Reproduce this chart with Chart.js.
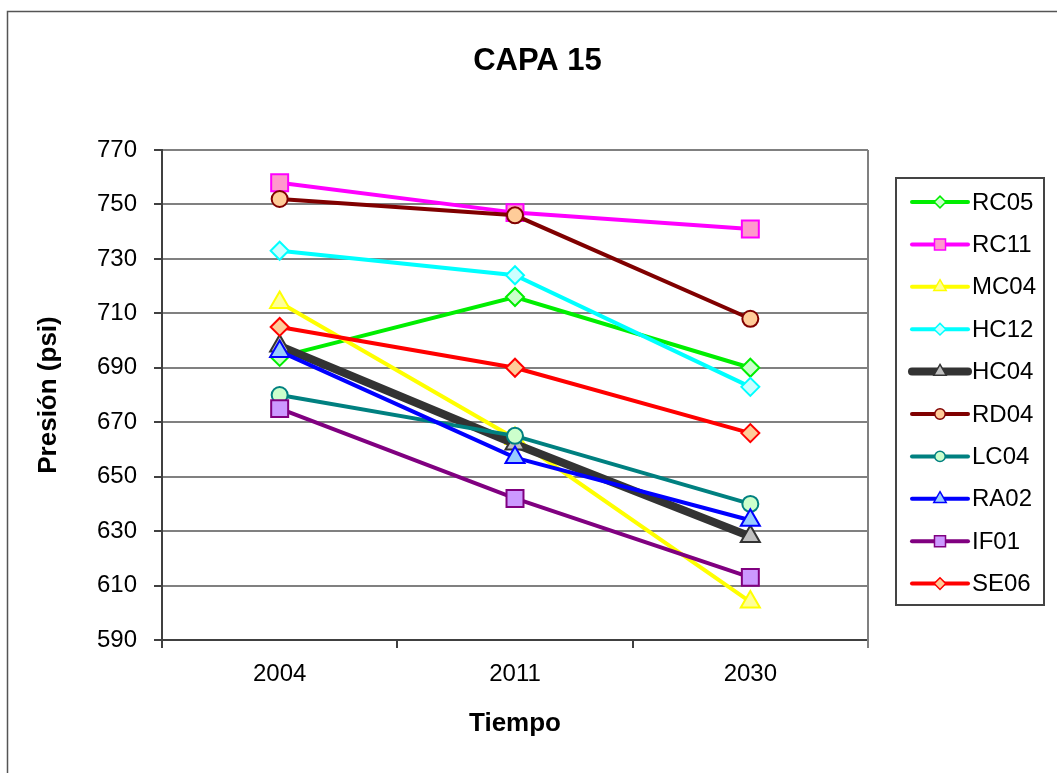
<!DOCTYPE html>
<html>
<head>
<meta charset="utf-8">
<title>CAPA 15</title>
<script src="https://cdn.jsdelivr.net/npm/chart.js@4.4.0/dist/chart.umd.min.js"></script>
<style>
  html, body { margin: 0; padding: 0; background: #fff; }
  #wrap { width: 1057px; height: 773px; position: relative; }
</style>
</head>
<body>
<div id="wrap"><canvas id="capaChart"></canvas></div>
<script>
// Years on the x axis
const years = ['2004', '2011', '2030'];

// Pressure per well (psi)
const rc05 = [694, 716, 690];
const rc11 = [758, 747, 741];
const mc04 = [714, 664, 604];
const hc12 = [733, 724, 683];
const hc04 = [698, 662, 628];
const rd04 = [752, 746, 708];
const lc04 = [680, 665, 640];
const ra02 = [696, 657, 634];
const if01 = [675, 642, 613];
const se06 = [705, 690, 666];

// Y axis range
const yMin = 590;
const yMax = 770;
const yStep = 20;

const chartTitle = 'CAPA 15';

const series = [
    { name: 'RC05', values: rc05 },
    { name: 'RC11', values: rc11 },
    { name: 'MC04', values: mc04 },
    { name: 'HC12', values: hc12 },
    { name: 'HC04', values: hc04 },
    { name: 'RD04', values: rd04 },
    { name: 'LC04', values: lc04 },
    { name: 'RA02', values: ra02 },
    { name: 'IF01', values: if01 },
    { name: 'SE06', values: se06 }
];

// Line colour, marker fill, marker shape and size for each well
const styles = {
    RC05: { line: '#00ee00', fill: '#ccffcc', shape: 'rectRot', r: 9, w: 4 },
    RC11: { line: '#ff00ff', fill: '#ff99cc', shape: 'rect', r: 12, w: 4 },
    MC04: { line: '#ffff00', fill: '#ffff99', shape: 'triangle', r: 11, w: 4 },
    HC12: { line: '#00ffff', fill: '#ccffff', shape: 'rectRot', r: 9, w: 4 },
    HC04: { line: '#333333', fill: '#c0c0c0', shape: 'triangle', r: 11, w: 8 },
    RD04: { line: '#800000', fill: '#ffcc99', shape: 'circle', r: 8, w: 4 },
    LC04: { line: '#008080', fill: '#ccffcc', shape: 'circle', r: 8, w: 4 },
    RA02: { line: '#0000ff', fill: '#99ccff', shape: 'triangle', r: 11, w: 4 },
    IF01: { line: '#800080', fill: '#cc99ff', shape: 'rect', r: 12, w: 4 },
    SE06: { line: '#ff0000', fill: '#ffcc99', shape: 'rectRot', r: 9, w: 4 }
};

const FONT = "'Liberation Sans', Arial, sans-serif";

const datasets = series.map((s, i) => {
    const st = styles[s.name];
    return {
        label: s.name,
        data: s.values,
        borderColor: st.line,
        borderWidth: st.w,
        backgroundColor: st.fill,
        pointStyle: st.shape,
        pointRadius: st.r,
        pointBorderColor: st.line,
        pointBackgroundColor: st.fill,
        pointBorderWidth: 2,
        tension: 0,
        // later wells sit on top of earlier ones
        order: series.length - i
    };
});

// White page with the outer frame and the title, plus the right edge of the plot area
const framePlugin = {
    id: 'frame',
    beforeDraw(chart) {
        const ctx = chart.ctx;
        ctx.save();
        ctx.fillStyle = '#ffffff';
        ctx.fillRect(0, 0, chart.width, chart.height);
        ctx.strokeStyle = '#555555';
        ctx.lineWidth = 1.5;
        ctx.strokeRect(7.5, 11.5, chart.width + 20, chart.height + 20);

        // title is centred on the whole page, not only the plot
        ctx.fillStyle = '#000000';
        ctx.font = 'bold 31px ' + FONT;
        ctx.textAlign = 'center';
        ctx.textBaseline = 'middle';
        ctx.fillText(chartTitle, chart.width / 2 + 9, 61);
        ctx.restore();
    },
    afterDatasetsDraw(chart) {
        const { ctx, chartArea } = chart;
        ctx.save();
        ctx.strokeStyle = '#808080';
        ctx.lineWidth = 2;
        ctx.beginPath();
        ctx.moveTo(chartArea.right, chartArea.top);
        ctx.lineTo(chartArea.right, chartArea.bottom + 8);
        ctx.stroke();
        ctx.restore();
    }
};

// Boxed legend with a line sample and marker for every well
const legendPlugin = {
    id: 'wellLegend',
    afterDraw(chart) {
        const { ctx, chartArea } = chart;
        const left = chartArea.right + 28;
        const top = chartArea.top + 28;
        const width = 148;
        const rowH = 42.4;
        const height = rowH * chart.data.datasets.length + 3;

        ctx.save();
        ctx.strokeStyle = '#444444';
        ctx.lineWidth = 2;
        ctx.strokeRect(left, top, width, height);

        ctx.font = '24px ' + FONT;
        ctx.textBaseline = 'middle';
        ctx.textAlign = 'left';

        chart.data.datasets.forEach((ds, i) => {
            const y = top + 24 + i * rowH;
            ctx.strokeStyle = ds.borderColor;
            ctx.lineWidth = ds.borderWidth;
            ctx.lineCap = 'round';
            ctx.beginPath();
            ctx.moveTo(left + 16, y);
            ctx.lineTo(left + 72, y);
            ctx.stroke();

            ctx.fillStyle = ds.pointBackgroundColor;
            ctx.strokeStyle = ds.pointBorderColor;
            ctx.lineWidth = 1.5;
            Chart.helpers.drawPoint(ctx, {
                pointStyle: ds.pointStyle,
                rotation: 0,
                radius: ds.pointRadius * 0.65,
                borderWidth: 1.5
            }, left + 44, y);

            ctx.fillStyle = '#000000';
            ctx.fillText(ds.label, left + 76, y + 1);
        });
        ctx.restore();
    }
};

new Chart(document.getElementById('capaChart'), {
    type: 'line',
    data: {
        labels: years,
        datasets: datasets
    },
    options: {
        responsive: true,
        maintainAspectRatio: false,
        animation: false,
        layout: {
            padding: { top: 150, left: 33, right: 189, bottom: 34 }
        },
        plugins: {
            legend: { display: false },
            tooltip: { enabled: false },
            title: { display: false }
        },
        scales: {
            x: {
                offset: true,
                grid: {
                    offset: true,
                    drawOnChartArea: false,
                    drawTicks: true,
                    tickLength: 8,
                    color: '#404040',
                    lineWidth: 2
                },
                border: { color: '#404040', width: 2 },
                ticks: {
                    color: '#000000',
                    font: { family: FONT, size: 24 },
                    padding: 12,
                    maxRotation: 0
                },
                title: {
                    display: true,
                    text: 'Tiempo',
                    color: '#000000',
                    font: { family: FONT, size: 26, weight: 'bold' },
                    padding: 0
                },
                afterFit(scale) { scale.height = 99; }
            },
            y: {
                min: yMin,
                max: yMax,
                grid: {
                    color: '#808080',
                    lineWidth: 2,
                    tickLength: 8,
                    tickColor: '#404040'
                },
                border: { color: '#404040', width: 2 },
                ticks: {
                    stepSize: yStep,
                    color: '#000000',
                    font: { family: FONT, size: 24 },
                    padding: 17
                },
                title: {
                    display: true,
                    text: 'Presión (psi)',
                    color: '#000000',
                    font: { family: FONT, size: 26, weight: 'bold' },
                    padding: 0
                },
                afterFit(scale) { scale.width = 129; }
            }
        }
    },
    plugins: [framePlugin, legendPlugin]
});
</script>
</body>
</html>
